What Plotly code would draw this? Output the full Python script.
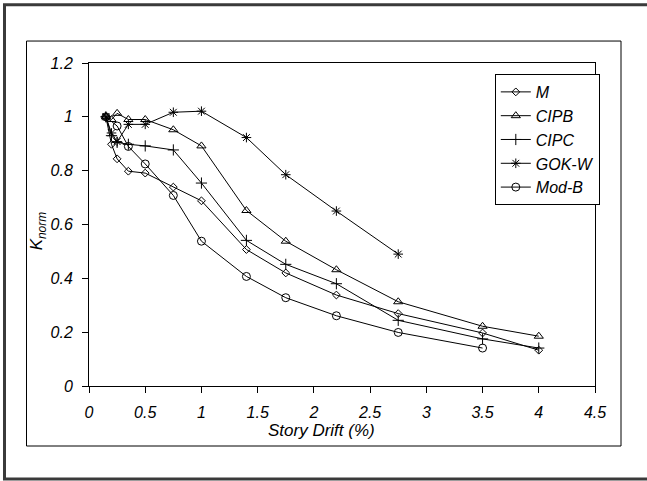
import plotly.graph_objects as go

# ---- data ----
m_x = [0.15, 0.2, 0.25, 0.35, 0.5, 0.75, 1.0, 1.4, 1.75, 2.2, 2.75, 3.5, 4.0]
m_y = [1.0, 0.898, 0.844, 0.798, 0.791, 0.739, 0.688, 0.507, 0.42, 0.338, 0.269, 0.197, 0.133]

cipb_x = [0.15, 0.2, 0.25, 0.35, 0.5, 0.75, 1.0, 1.4, 1.75, 2.2, 2.75, 3.5, 4.0]
cipb_y = [1.0, 0.99, 1.013, 0.99, 0.99, 0.952, 0.892, 0.652, 0.538, 0.432, 0.313, 0.222, 0.185]

cipc_x = [0.15, 0.2, 0.25, 0.35, 0.5, 0.75, 1.0, 1.4, 1.75, 2.2, 2.75, 3.5, 4.0]
cipc_y = [1.0, 0.93, 0.905, 0.898, 0.892, 0.877, 0.754, 0.541, 0.452, 0.38, 0.244, 0.175, 0.141]

gokw_x = [0.15, 0.2, 0.25, 0.35, 0.5, 0.75, 1.0, 1.4, 1.75, 2.2, 2.75]
gokw_y = [1.0, 0.94, 0.908, 0.972, 0.972, 1.017, 1.021, 0.923, 0.785, 0.65, 0.49]

modb_x = [0.15, 0.25, 0.35, 0.5, 0.75, 1.0, 1.4, 1.75, 2.2, 2.75, 3.5]
modb_y = [1.0, 0.966, 0.89, 0.825, 0.708, 0.538, 0.407, 0.328, 0.261, 0.199, 0.141]

series_names = ["M", "CIPB", "CIPC", "GOK-W", "Mod-B"]
x_ticks = [0, 0.5, 1, 1.5, 2, 2.5, 3, 3.5, 4, 4.5]
x_tick_labels = ["0", "0.5", "1", "1.5", "2", "2.5", "3", "3.5", "4", "4.5"]
y_ticks = [0, 0.2, 0.4, 0.6, 0.8, 1, 1.2]
y_tick_labels = ["0", "0.2", "0.4", "0.6", "0.8", "1", "1.2"]

FONT = "Liberation Sans, Arial, sans-serif"

series = [
    (m_x, m_y, "diamond-open", 6),
    (cipb_x, cipb_y, "triangle-up-open", 8),
    (cipc_x, cipc_y, "cross-thin-open", 8),
    (gokw_x, gokw_y, "asterisk-open", 8),
    (modb_x, modb_y, "circle-open", 8),
]

fig = go.Figure()
for i, (xs, ys, sym, sz) in enumerate(series):
    fig.add_trace(go.Scatter(
        x=xs, y=ys, mode="lines+markers", name="<i>" + series_names[i] + "</i>",
        legendgroup=series_names[i],
        line=dict(color="black", width=1),
        marker=dict(symbol=sym, size=sz, color="black",
                    line=dict(color="black", width=1)),
    ))

fig.update_layout(
    width=647, height=481,
    margin=dict(l=89, r=52, t=63, b=95),
    paper_bgcolor="white", plot_bgcolor="white",
    font=dict(family=FONT, size=16, color="black"),
    showlegend=True,
    legend=dict(
        x=0.802, y=0.966, xanchor="left", yanchor="top",
        bgcolor="white", bordercolor="black", borderwidth=1,
        font=dict(family=FONT, size=16),
        tracegroupgap=0, itemwidth=30,
    ),
    xaxis=dict(
        range=[0, 4.5], tickvals=x_ticks,
        ticktext=["<i>" + t + "</i>" for t in x_tick_labels],
        showgrid=False, zeroline=False,
        showline=True, linecolor="black", linewidth=1, mirror=True,
        ticks="outside", ticklen=6, tickcolor="black",
        tickfont=dict(family=FONT, size=16),
        ticklabelstandoff=6,
    ),
    yaxis=dict(
        range=[0, 1.2], tickvals=y_ticks,
        ticktext=["<i>" + t + "</i>" for t in y_tick_labels],
        showgrid=False, zeroline=False,
        showline=True, linecolor="black", linewidth=1, mirror=True,
        ticks="outside", ticklen=6, tickcolor="black",
        tickfont=dict(family=FONT, size=16),
        ticklabelstandoff=6,
    ),
)

fig.add_annotation(
    text="<i>Story Drift (%)</i>", xref="paper", yref="paper",
    x=0.4585, y=-0.139, xanchor="center", yanchor="middle",
    showarrow=False, font=dict(family=FONT, size=17),
)
fig.add_annotation(
    text="<i>K<sub>norm</sub></i>", xref="paper", yref="paper",
    x=-0.1, y=0.48, xanchor="center", yanchor="middle", textangle=-90,
    showarrow=False, font=dict(family=FONT, size=17),
)

# inner chart frame
fig.add_shape(type="rect", xref="paper", yref="paper",
              x0=-0.1235, x1=1.0514, y0=-0.1858, y1=1.068,
              line=dict(color="black", width=1), layer="below")
# outer border (right side runs off the picture)
fig.add_shape(type="rect", xref="paper", yref="paper",
              x0=-0.167, x1=1.25, y0=-0.288, y1=1.1807,
              line=dict(color="#3a3a3a", width=3), layer="below")

fig.write_html("out.html", config={"displayModeBar": False},
               post_script="document.body.style.margin='0';document.body.style.overflow='hidden';")
